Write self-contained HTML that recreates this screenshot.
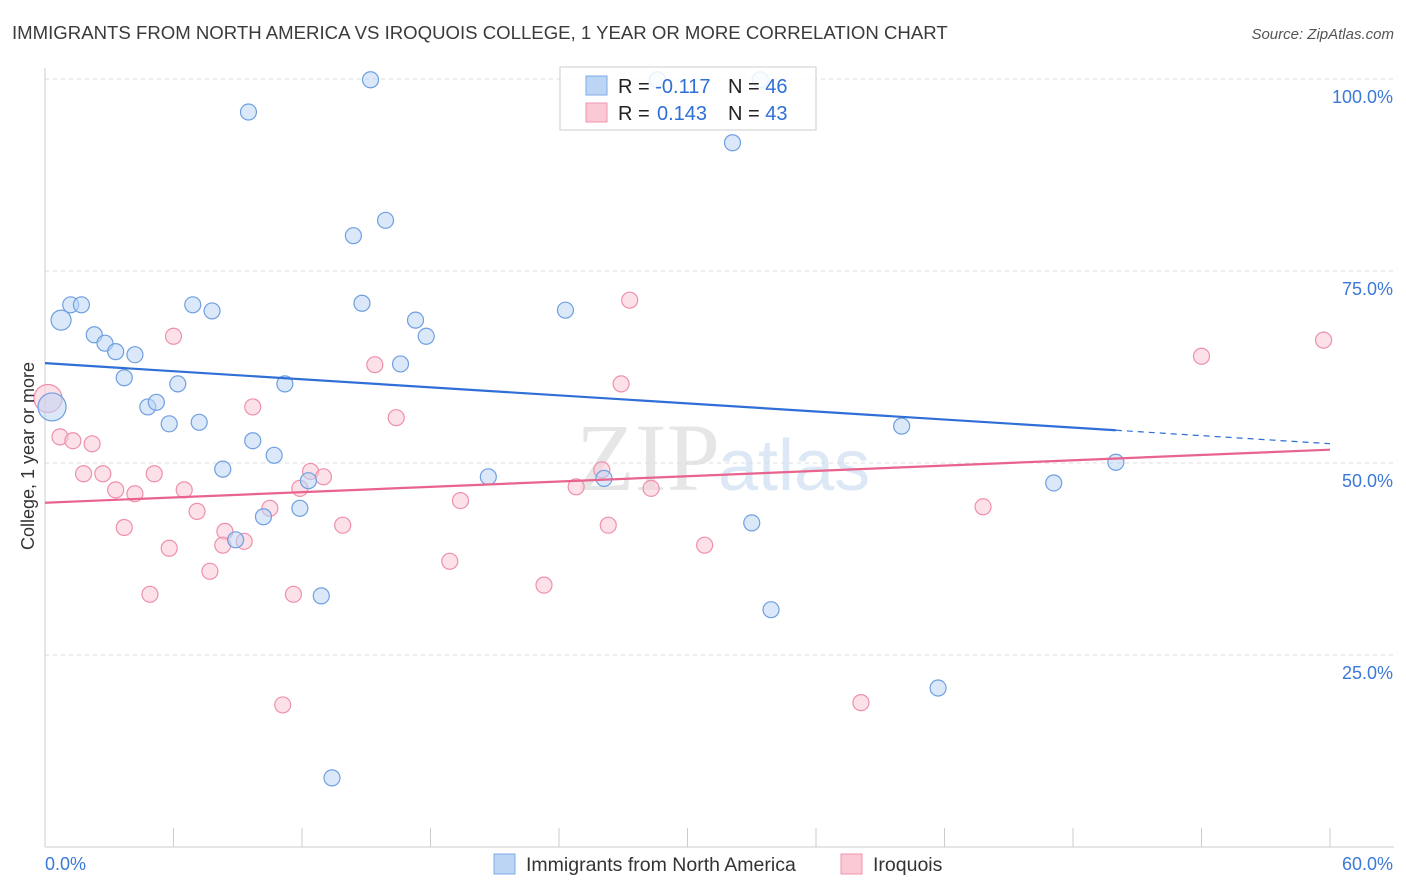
<!DOCTYPE html>
<html><head><meta charset="utf-8">
<style>
body{margin:0;background:#fff;font-family:"Liberation Sans",sans-serif;}
svg{display:block}
</style></head>
<body>
<svg id="chart" width="1406" height="892" viewBox="0 0 1406 892">
<text x="12" y="39" font-size="18.6" fill="#3a3a3a">IMMIGRANTS FROM NORTH AMERICA VS IROQUOIS COLLEGE, 1 YEAR OR MORE CORRELATION CHART</text>
<text x="1394" y="39" font-size="15" font-style="italic" fill="#555" text-anchor="end">Source: ZipAtlas.com</text>
<text x="720" y="490" font-size="96" font-family="Liberation Serif,serif" fill="#e6e6e6" text-anchor="end">ZIP</text>
<text x="718" y="490" font-size="72" fill="#dce8f5">atlas</text>
<g id="grid"></g>
<g id="axes"></g>
<g id="marks"></g>
<text transform="translate(34,456) rotate(-90)" font-size="18" fill="#333" text-anchor="middle">College, 1 year or more</text>
<g>
<rect x="560" y="67" width="256" height="63" fill="#fff" fill-opacity="0.85" stroke="#ccc"/>
<rect x="586" y="76" width="21" height="19" fill="#bcd5f5" stroke="#7eaae6"/>
<rect x="586" y="103" width="21" height="19" fill="#fbc9d6" stroke="#f095b0"/>
<text x="618" y="93" font-size="20" fill="#222">R = <tspan fill="#2f6fd6">-0.117</tspan><tspan x="728">N = </tspan><tspan fill="#2f6fd6">46</tspan></text>
<text x="618" y="120" font-size="20" fill="#222">R = <tspan x="657" fill="#2f6fd6">0.143</tspan><tspan x="728">N = </tspan><tspan fill="#2f6fd6">43</tspan></text>
</g>
<g>
<rect x="494" y="854" width="21" height="20" fill="#bcd5f5" stroke="#7eaae6"/>
<text x="526" y="871" font-size="19.5" fill="#333">Immigrants from North America</text>
<rect x="841" y="854" width="21" height="20" fill="#fbc9d6" stroke="#f095b0"/>
<text x="873" y="871" font-size="19.5" fill="#333">Iroquois</text>
</g>
</svg>
<script>
const yTicks=[25,50,75,100];
const yTickLabels=["25.0%","50.0%","75.0%","100.0%"];
const xTickLabels=["0.0%","60.0%"];
const blueX=[15.2,9.5,33.4,28.6,32.1,15.9,14.4,1.2,1.7,0.75,6.9,7.8,14.8,17.3,17.8,24.3,2.3,2.8,3.3,4.2,3.7,6.2,11.2,16.6,0.33,4.8,5.2,5.8,7.2,9.7,10.7,8.3,20.7,26.1,12.3,11.9,10.2,8.9,12.9,33.0,33.9,40.0,47.1,50.0,41.7,13.4];
const blueY=[99.9,95.7,99.9,99.9,91.7,81.6,79.6,70.6,70.6,68.6,70.6,69.8,70.8,68.6,66.5,69.9,66.7,65.6,64.5,64.1,61.1,60.3,60.3,62.9,57.3,57.3,57.9,55.1,55.3,52.9,51.0,49.2,48.2,48.0,47.7,44.1,43.0,40.0,32.7,42.2,30.9,54.8,47.4,50.1,20.7,9.0];
const pinkX=[0.14,0.7,1.3,2.2,1.8,2.7,5.1,3.3,4.2,6.5,6.0,9.7,3.7,7.1,5.8,4.9,7.7,8.4,8.3,9.3,10.5,11.9,12.4,13.0,11.6,11.1,13.9,15.4,16.4,19.4,18.9,23.3,24.8,26.0,26.3,26.9,27.3,28.3,30.8,38.1,43.8,54.0,59.7];
const pinkY=[58.4,53.4,52.9,52.5,48.6,48.6,48.6,46.5,46.0,46.5,66.5,57.3,41.6,43.7,38.9,32.9,35.9,41.1,39.3,39.8,44.1,46.7,48.9,48.2,32.9,18.5,41.9,62.8,55.9,45.1,37.2,34.1,46.9,49.1,41.9,60.3,71.2,46.7,39.3,18.8,44.3,63.9,66.0];
const blueBig=[9,24], pinkBig=[0];
const NS="http://www.w3.org/2000/svg";
const X0=45,X1=1330,Y0=847,Y100=79;
const sx=v=>X0+(v/60)*(X1-X0);
const sy=v=>Y0-(v/100)*(Y0-Y100);
function mk(tag,attrs,parent){const e=document.createElementNS(NS,tag);for(const k in attrs)e.setAttribute(k,attrs[k]);parent.appendChild(e);return e;}
const grid=document.getElementById('grid'),axes=document.getElementById('axes'),marks=document.getElementById('marks');
yTicks.forEach((t,i)=>{
 const l=mk('line',{x1:X0,x2:1394,y1:sy(t),y2:sy(t),stroke:'#ddd','stroke-dasharray':'4,4'},grid);
 
 
 const tx=mk('text',{x:1393,y:sy(t)+24,'font-size':18,fill:'#3b78d8','text-anchor':'end'},axes);
 tx.textContent=yTickLabels[i];
 
 
});
let a=mk('line',{x1:X0,x2:X0,y1:68,y2:Y0,stroke:'#ccc'},axes);

a=mk('line',{x1:X0,x2:1394,y1:Y0,y2:Y0,stroke:'#ccc'},axes);

for(let i=0;i<=10;i++){const t=mk('line',{x1:sx(i*6),x2:sx(i*6),y1:828,y2:Y0,stroke:'#ccc'},axes);
 }
let t1=mk('text',{x:45,y:870,'font-size':18,fill:'#3b78d8'},axes);t1.textContent=xTickLabels[0];

let t2=mk('text',{x:1393,y:870,'font-size':18,fill:'#3b78d8','text-anchor':'end'},axes);t2.textContent=xTickLabels[1];

function pts(xs,ys,big,fill,stroke,name){xs.forEach((x,i)=>{
 const c=mk('circle',{cx:sx(x),cy:sy(ys[i]),r:big.includes(i)?(i===24||i===0&&name==='pink-point'?14:10):8,fill:fill,'fill-opacity':0.55,stroke:stroke,'stroke-width':1.2},marks);
 
 });}
pts(pinkX,pinkY,pinkBig,'#fbc9d6','#ee90ab','pink-point');
pts(blueX,blueY,blueBig,'#bcd5f5','#6f9fe0','blue-point');
function fit(xs,ys){const n=xs.length,mx=xs.reduce((a,b)=>a+b)/n,my=ys.reduce((a,b)=>a+b)/n;let sxy=0,sxx=0;xs.forEach((x,i)=>{sxy+=(x-mx)*(ys[i]-my);sxx+=(x-mx)**2});const b=sxy/sxx;return[my-b*mx,b];}
const [ba,bb]=fit(blueX,blueY),[pa,pb]=fit(pinkX,pinkY);
const bmax=Math.max(...blueX);
let l=mk('line',{x1:sx(0),y1:sy(ba),x2:sx(bmax),y2:sy(ba+bb*bmax),stroke:'#2f6fd6','stroke-width':2.2},marks);

l=mk('line',{x1:sx(bmax),y1:sy(ba+bb*bmax),x2:sx(60),y2:sy(ba+bb*60),stroke:'#2f6fd6','stroke-width':1.2,'stroke-dasharray':'6,5'},marks);

l=mk('line',{x1:sx(0),y1:sy(pa),x2:sx(60),y2:sy(pa+pb*60),stroke:'#e8638e','stroke-width':2.2},marks);

</script>
</body></html>
